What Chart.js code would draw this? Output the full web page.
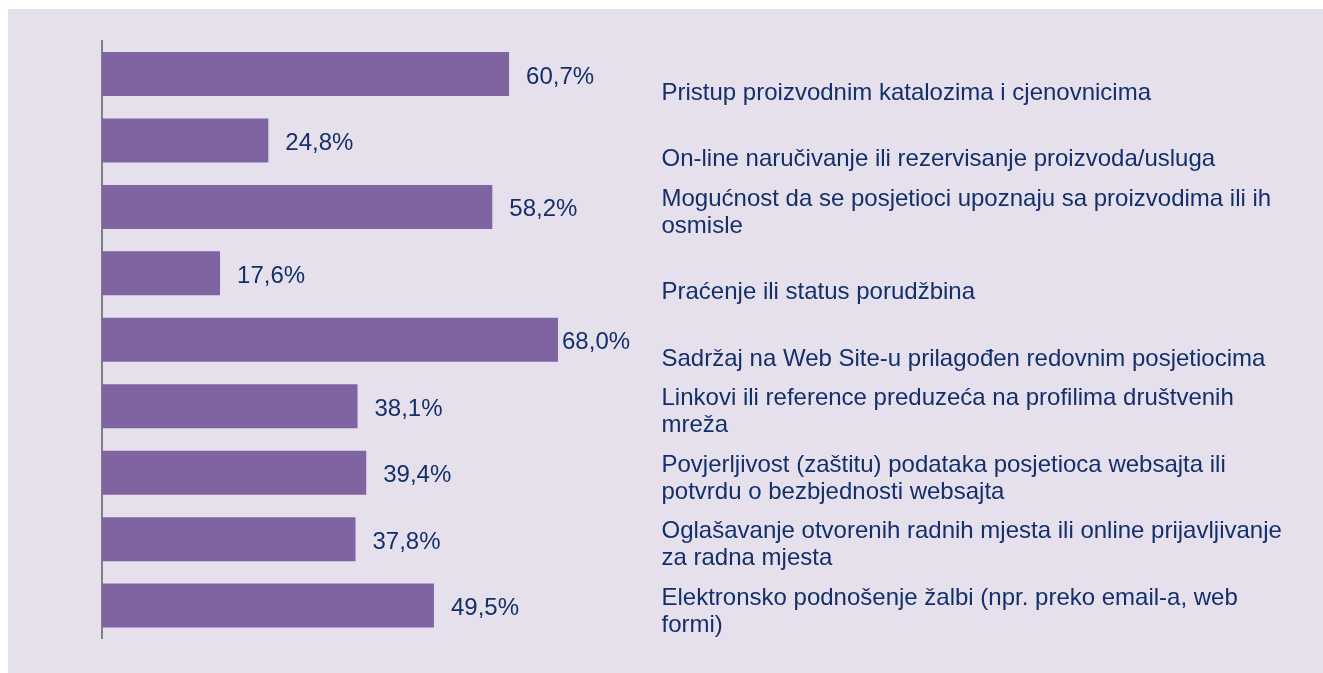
<!DOCTYPE html>
<html>
<head>
<meta charset="utf-8">
<script src="https://cdn.jsdelivr.net/npm/chart.js@4"></script>
<style>
  html, body { margin: 0; padding: 0; background: #ffffff; overflow: hidden; }
  #bg { position: absolute; left: 8px; top: 9px; right: 0; bottom: 0; background: #E5E0EC; }
  #chart { position: absolute; left: 0; top: 0; }
</style>
</head>
<body>
<div id="bg"></div>
<canvas id="chart" width="1323" height="673"></canvas>
<script>
// categories (already wrapped as in the original)
const categories = [
    ['Pristup proizvodnim katalozima i cjenovnicima'],
    ['On-line naručivanje ili rezervisanje proizvoda/usluga'],
    ['Mogućnost da se posjetioci upoznaju sa proizvodima ili ih', 'osmisle'],
    ['Praćenje ili status porudžbina'],
    ['Sadržaj na Web Site-u prilagođen redovnim posjetiocima'],
    ['Linkovi ili reference preduzeća na profilima društvenih', 'mreža'],
    ['Povjerljivost (zaštitu) podataka posjetioca websajta ili', 'potvrdu o bezbjednosti websajta'],
    ['Oglašavanje otvorenih radnih mjesta ili online prijavljivanje', 'za radna mjesta'],
    ['Elektronsko podnošenje žalbi (npr. preko email-a, web', 'formi)']
];
const values = [60.7, 24.8, 58.2, 17.6, 68.0, 38.1, 39.4, 37.8, 49.5];

const barColor = '#8064A2';
const textColor = '#14306A';
const fontFamily = '"Liberation Sans", Arial, sans-serif';

function fmt(v) {
    return v.toFixed(1).replace('.', ',') + '%';
}

// value labels next to bars + category texts on the right
const labelsPlugin = {
    id: 'labels',
    afterDatasetsDraw(chart) {
        const ctx = chart.ctx;
        const area = chart.chartArea;
        const yScale = chart.scales.y;
        const meta = chart.getDatasetMeta(0);
        ctx.save();
        ctx.font = '24px ' + fontFamily;
        ctx.fillStyle = textColor;
        ctx.textAlign = 'left';
        ctx.textBaseline = 'alphabetic';
        meta.data.forEach((bar, i) => {
            const txt = fmt(values[i]);
            const w = ctx.measureText(txt).width;
            let x = bar.x + 17;
            if (x + w > area.right - 10) x = Math.max(bar.x + 4, area.right - 10 - w);
            ctx.fillText(txt, x, bar.y + 9.5);
        });
        categories.forEach((lines, i) => {
            const yc = yScale.getPixelForValue(i);
            const n = lines.length;
            lines.forEach((line, j) => {
                ctx.fillText(line, area.right + 23, yc + 26 - (n - 1 - j) * 27);
            });
        });
        ctx.restore();
    }
};

new Chart(document.getElementById('chart'), {
    type: 'bar',
    data: {
        labels: categories.map(c => c.join(' ')),
        datasets: [{
            data: values,
            backgroundColor: barColor,
            borderWidth: 0,
            categoryPercentage: 1,
            barPercentage: 0.662
        }]
    },
    options: {
        indexAxis: 'y',
        responsive: false,
        animation: false,
        layout: { padding: { left: 102, right: 684.5, top: 40.8, bottom: 34.2 } },
        plugins: { legend: { display: false }, tooltip: { enabled: false } },
        scales: {
            x: { display: false, min: 0, max: 80 },
            y: {
                ticks: { display: false },
                grid: { display: false, drawTicks: false },
                border: { display: true, color: '#808080', width: 2 },
                afterFit(scale) { scale.width = 0; }
            }
        }
    },
    plugins: [labelsPlugin]
});
</script>
</body>
</html>
